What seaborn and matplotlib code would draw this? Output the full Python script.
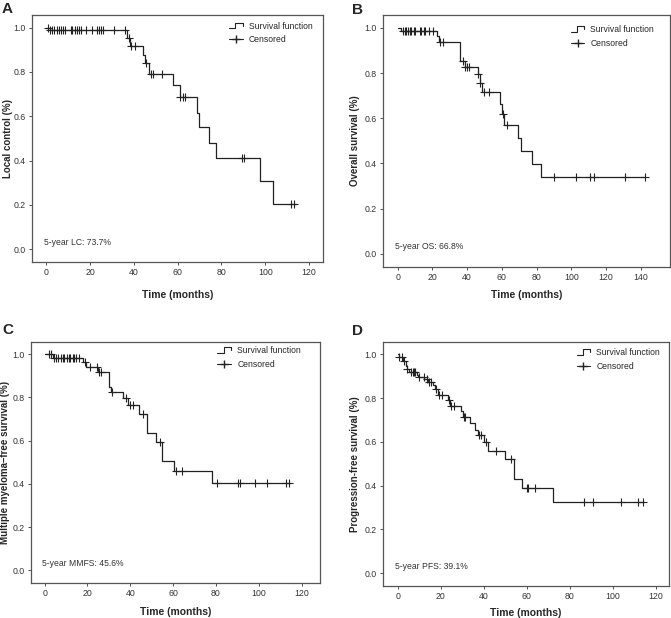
import numpy as np
import pandas as pd
import matplotlib
matplotlib.use("Agg")
import matplotlib.pyplot as plt
import seaborn as sns
from matplotlib.lines import Line2D
from matplotlib.legend_handler import HandlerBase

# Panel A - local control
times_a = [0, 1.5, 36.8, 38.3, 44.0, 45.3, 47.0, 57.9, 60.9, 68.7, 69.8, 74.5, 77.7, 97.6, 103.7]
surv_a = [1.0, 0.988, 0.952, 0.916, 0.878, 0.840, 0.792, 0.739, 0.685, 0.617, 0.550, 0.479, 0.411, 0.306, 0.205]
censor_a = [1.0, 1.7, 2.7, 3.7, 4.7, 5.8, 6.7, 7.8, 8.7, 11.1, 12.0, 13.0, 14.0, 15.0, 16.0, 18.2,
            20.8, 23.2, 24.3, 25.2, 26.1, 31.0, 35.9, 37.6, 38.8, 40.6, 45.5, 47.8, 48.7, 52.8,
            61.2, 62.6, 63.5, 89.5, 90.4, 111.6, 113.1]
end_a = 114.0

# Panel B - overall survival
times_b = [0, 1.9, 22.5, 23.6, 35.7, 38.6, 46.3, 47.2, 48.8, 59.1, 60.1, 61.4, 69.3, 70.8, 77.4, 82.3]
surv_b = [1.0, 0.987, 0.963, 0.938, 0.854, 0.828, 0.795, 0.758, 0.717, 0.665, 0.620, 0.571, 0.513, 0.454, 0.397, 0.340]
censor_b = [3.1, 4.0, 5.0, 6.0, 6.9, 7.9, 9.2, 10.2, 12.7, 13.6, 15.0, 15.9, 17.9, 20.2, 24.2, 25.9,
            37.6, 39.0, 40.1, 40.9, 46.5, 47.5, 49.5, 52.6, 60.5, 63.1, 90.2, 102.7, 110.9, 113.0,
            131.0, 142.6]
end_b = 142.6

# Panel C - multiple myeloma-free survival
times_c = [0, 3.7, 17.9, 19.4, 24.9, 30.2, 31.1, 36.4, 39.0, 44.2, 47.9, 51.9, 54.9, 60.3, 78.2]
surv_c = [1.0, 0.985, 0.962, 0.939, 0.916, 0.850, 0.824, 0.798, 0.763, 0.722, 0.637, 0.595, 0.504, 0.461, 0.402]
censor_c = [1.9, 3.0, 4.5, 5.4, 6.4, 7.5, 8.4, 9.3, 10.3, 11.2, 12.1, 13.1, 13.8, 14.8, 15.9, 18.7,
            21.0, 24.4, 25.5, 26.4, 31.3, 38.1, 39.7, 41.5, 45.9, 54.0, 61.3, 64.1, 80.4, 90.4,
            91.3, 98.4, 104.0, 112.6, 114.3]
end_c = 114.5

# Panel D - progression-free survival
times_d = [0, 0.4, 2.4, 3.6, 4.2, 5.4, 8.8, 9.4, 12.4, 14.0, 16.4, 17.5, 18.5, 23.3, 24.4, 29.5,
           30.3, 33.7, 35.7, 37.2, 40.2, 41.9, 49.9, 53.8, 57.6, 71.9]
surv_d = [1.0, 0.988, 0.968, 0.945, 0.932, 0.920, 0.908, 0.896, 0.886, 0.875, 0.860, 0.840, 0.815,
          0.790, 0.766, 0.740, 0.713, 0.685, 0.656, 0.630, 0.600, 0.560, 0.520, 0.432, 0.390, 0.325]
censor_d = [0.8, 2.0, 2.8, 4.4, 6.3, 7.1, 7.6, 8.2, 10.0, 12.0, 13.6, 14.7, 15.5, 17.8, 19.3, 20.6,
            23.6, 24.9, 26.0, 30.6, 31.1, 37.9, 38.8, 41.1, 45.7, 52.7, 60.0, 60.7, 63.8, 86.7,
            90.9, 103.6, 111.7, 114.1]
end_d = 114.3

ylabels = ["Local control (%)", "Overall survival (%)",
           "Multiple myeloma\u2013free survival (%)", "Progression-free survival (%)"]
notes = ["5-year LC: 73.7%", "5-year OS: 66.8%", "5-year MMFS: 45.6%", "5-year PFS: 39.1%"]
letters = ["A", "B", "C", "D"]
xmax_ticks = [120, 140, 120, 120]

sns.set_style("ticks")
plt.rcParams['font.family'] = ['Liberation Sans', 'DejaVu Sans']

LINE = "#222222"


class StepHandler(HandlerBase):
    # little step icon like the SPSS legend
    def create_artists(self, legend, orig_handle, xdescent, ydescent, width, height, fontsize, trans):
        x0, y0 = -xdescent, -ydescent
        xs = [x0, x0 + 0.45 * width, x0 + 0.45 * width, x0 + width, x0 + width]
        ys = [y0 + 0.05 * height, y0 + 0.05 * height, y0 + 0.9 * height, y0 + 0.9 * height, y0 + 0.45 * height]
        ln = Line2D(xs, ys, color=LINE, lw=0.8)
        ln.set_transform(trans)
        return [ln]


fig = plt.figure(figsize=(6.71, 6.18), dpi=100)
positions = [
    [0.048, 0.576, 0.434, 0.400],
    [0.571, 0.568, 0.428, 0.408],
    [0.046, 0.057, 0.431, 0.390],
    [0.571, 0.052, 0.426, 0.395],
]
xlims = [(-6.4, 126.6), (-8.4, 157), (-6.4, 128.6), (-6.8, 126)]
letter_pos = [(0.003, 0.997), (0.524, 0.995), (0.004, 0.478), (0.524, 0.476)]
ylabel_x = [-0.084, -0.098, -0.088, -0.098]
xlabel_y = [-0.134, -0.111, -0.120, -0.111]
legend_anchor = [(0.962, 0.972), (0.944, 0.960), (0.934, 0.983), (0.969, 0.975)]

panels = [
    (times_a, surv_a, censor_a, end_a),
    (times_b, surv_b, censor_b, end_b),
    (times_c, surv_c, censor_c, end_c),
    (times_d, surv_d, censor_d, end_d),
]

for i, (times, surv, censor, end) in enumerate(panels):
    ax = fig.add_axes(positions[i])
    curve = pd.DataFrame({"time": list(times) + [end], "surv": list(surv) + [surv[-1]]})
    sns.lineplot(data=curve, x="time", y="surv", drawstyle="steps-post", estimator=None,
                 color=LINE, lw=0.9, ax=ax)
    idx = np.searchsorted(np.array(times), np.array(censor), side="right") - 1
    cens = pd.DataFrame({"time": censor, "surv": np.array(surv)[idx]})
    sns.scatterplot(data=cens, x="time", y="surv", marker="+", s=28, color=LINE,
                    linewidth=0.8, ax=ax, zorder=3)

    ax.set_xlim(*xlims[i])
    ax.set_ylim(-0.058, 1.058)
    ax.set_xticks(np.arange(0, xmax_ticks[i] + 1, 20))
    ax.set_yticks(np.arange(0, 1.01, 0.2))
    ax.set_yticklabels([f"{v:.1f}" for v in np.arange(0, 1.01, 0.2)])
    ax.tick_params(labelsize=6.3, colors="#333333", length=2.5, width=0.6, pad=2)
    for s in ax.spines.values():
        s.set_color("#555555")
        s.set_linewidth(0.9)
    ax.set_xlabel("Time (months)", fontsize=7.5, fontweight="bold", va="center")
    ax.xaxis.set_label_coords(0.5, xlabel_y[i])
    ax.set_ylabel(ylabels[i], fontsize=7, fontweight="bold", va="center")
    ax.yaxis.set_label_coords(ylabel_x[i], 0.5)
    ax.text(0.04, 0.08, notes[i], transform=ax.transAxes, fontsize=6.2, color="#333333", va="center")

    handles = [Line2D([], [], color=LINE), Line2D([], [], color=LINE, marker="+", markersize=6, lw=0.8)]
    ax.legend(handles, ["Survival function", "Censored"], loc="upper right",
              bbox_to_anchor=legend_anchor[i], frameon=False, borderaxespad=0, borderpad=0,
              fontsize=6.2, handlelength=1.6, handletextpad=0.7, labelspacing=0.55,
              handler_map={handles[0]: StepHandler()})

    fig.text(letter_pos[i][0], letter_pos[i][1], letters[i], fontsize=11, fontweight="bold",
             va="top", ha="left")

fig.savefig("out.png", dpi=100)
